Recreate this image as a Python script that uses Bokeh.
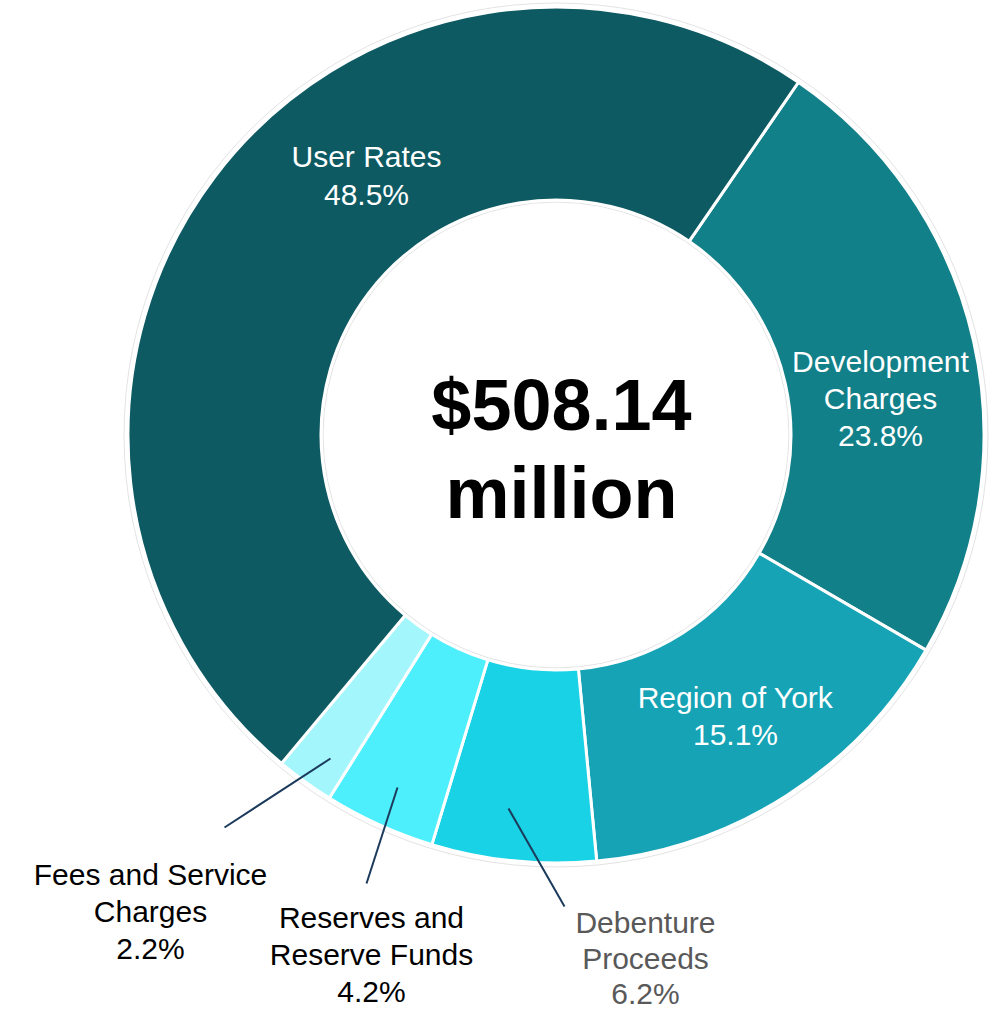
import math
from bokeh.plotting import figure
from bokeh.models import Range1d, ColumnDataSource
from bokeh.core.properties import value
from bokeh.embed import file_html
from bokeh.resources import INLINE

# ---------------- data ----------------
categories = ["Development Charges", "Region of York", "Debenture Proceeds",
              "Reserves and Reserve Funds", "Fees and Service Charges", "User Rates"]
shares = [23.8, 15.1, 6.2, 4.2, 2.2, 48.5]
label_names = [["Development", "Charges"], ["Region of York"], ["Debenture", "Proceeds"],
               ["Reserves and", "Reserve Funds"], ["Fees and Service", "Charges"], ["User Rates"]]
total_lines = ["$508.14", "million"]

# ---------------- style / layout ----------------
colors = ["#128089", "#15A3B5", "#1AD2E6", "#4DEFFC", "#A3F7FC", "#0E5A62"]
label_colors = ["white", "white", "#595959", "black", "black", "white"]
# label anchor: centre x, first-line baseline y (image pixel coords)
label_anchor = [(880, 372), (735, 708), (645, 933), (371, 928), (150, 885), (366, 167)]
line_steps = [37, 37, 35.5, 37, 37, 38]
LABEL_SIZE = 30
TOTAL_SIZE = 72
# leader lines (image pixel coords) for outside labels
leaders = {2: [(508, 808), (564, 906)], 3: [(397, 787), (366, 883)], 4: [(330, 758), (224, 827)]}

W, H = 997, 1010
IMG_H = 1010


def Y(y_img):
    return IMG_H - y_img


def text_y(baseline_img, size):
    # the svg backend places the cap-centre at the anchor; shift by half the cap height
    return Y(baseline_img - 0.358 * size)


CX, CY = 555.5, Y(434.5)
R_OUT, R_IN = 428, 235
START_CLOCK = 34.5  # degrees clockwise from 12 o'clock

p = figure(width=W, height=H, output_backend="svg", toolbar_location=None,
           x_range=Range1d(0, W), y_range=Range1d(IMG_H - H, IMG_H),
           min_border=0)
p.axis.visible = False
p.grid.visible = False
p.outline_line_color = None
p.background_fill_color = "white"
p.border_fill_color = "white"

# angles
starts, ends = [], []
cum = 0.0
for s in shares:
    t0 = START_CLOCK + 360.0 * cum / 100.0
    cum += s
    t1 = START_CLOCK + 360.0 * cum / 100.0
    starts.append(math.radians(90 - t0))
    ends.append(math.radians(90 - t1))

src = ColumnDataSource(dict(x=[CX] * len(shares), y=[CY] * len(shares),
                            start=starts, end=ends, color=colors, cat=categories))

# faint outline rings
p.circle(x=[CX], y=[CY], radius=R_OUT + 4, fill_color=None, line_color="#e3e3e3", line_width=1)
p.circle(x=[CX], y=[CY], radius=R_IN - 2, fill_color=None, line_color="#e3e3e3", line_width=1)

p.annular_wedge(x="x", y="y", inner_radius=R_IN, outer_radius=R_OUT,
                start_angle="start", end_angle="end", direction="clock",
                fill_color="color", line_color="white", line_width=3, source=src)

# leader lines
for i, pts in leaders.items():
    p.line(x=[pt[0] for pt in pts], y=[Y(pt[1]) for pt in pts], line_color="#1B3A5C", line_width=2)

# labels
tx, ty, tt, tc = [], [], [], []
for i, names in enumerate(label_names):
    lines = names + [f"{shares[i]}%"]
    ax, ay = label_anchor[i]
    for k, ln in enumerate(lines):
        tx.append(ax)
        ty.append(text_y(ay + k * line_steps[i], LABEL_SIZE))
        tt.append(ln)
        tc.append(label_colors[i])
p.text(x=tx, y=ty, text=tt, text_color=tc, text_align="center", text_baseline="alphabetic",
       text_font=value("Liberation Sans"), text_font_size=f"{LABEL_SIZE}px")

# centre total
p.text(x=[561, 561], y=[text_y(430, TOTAL_SIZE), text_y(518, TOTAL_SIZE)], text=total_lines,
       text_color="black", text_align="center", text_baseline="alphabetic",
       text_font=value("Liberation Sans"), text_font_size=f"{TOTAL_SIZE}px", text_font_style="bold")

open("out.html", "w").write(file_html(p, INLINE))
